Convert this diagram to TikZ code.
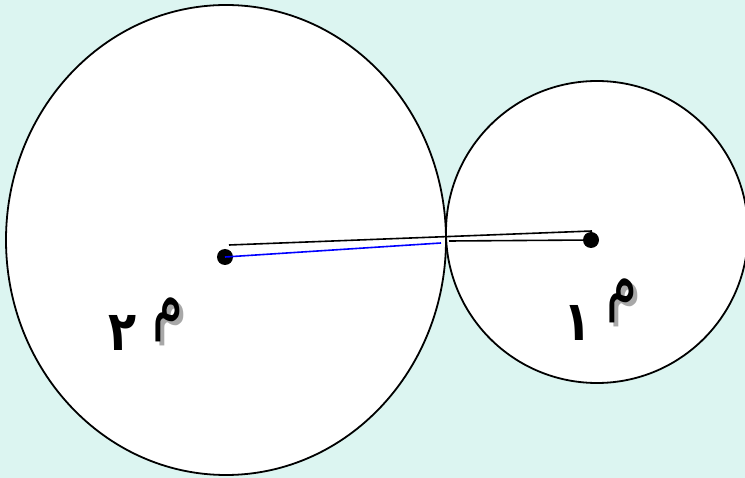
\documentclass[tikz,border=0pt]{standalone}
\usepackage{fontspec}
\newfontfamily\arabicfont[Script=Arabic]{DejaVu Sans}
\TeXXeTstate=1
\definecolor{bg}{HTML}{DCF5F1}
\definecolor{shadowgray}{HTML}{A8A8A8}
\newcommand{\shadowtext}[1]{\makebox[0pt][l]{\kern4pt\raisebox{-3pt}{\textcolor{shadowgray}{#1}}}#1}
\tikzset{
  circ/.style={draw=black, line width=1.8pt, fill=white},
  dotnode/.style={circle, fill=black, inner sep=0pt, minimum size=16pt},
  seg/.style={line width=1.6pt, black},
  radseg/.style={line width=1.6pt, blue},
  meem/.style={inner sep=0pt, yscale=1.45, font=\arabicfont\fontsize{50}{50}\selectfont},
  digit/.style={inner sep=0pt, yscale=1.2, font=\arabicfont\bfseries\fontsize{46}{46}\selectfont},
}
\begin{document}
\begin{tikzpicture}[x=1pt,y=-1pt]
\fill[bg] (0,0) rectangle (745,478);
\useasboundingbox (0,0) rectangle (745,478);
% circles
\draw[circ] (226,240) ellipse [x radius=220, y radius=235];
\draw[circ] (597,232) circle [radius=151];
% centres
\node[dotnode] (m2) at (225,257) {};
\node[dotnode] (m1) at (591,240) {};
% free ends
\coordinate (a) at (229,245);
\coordinate (b) at (592,231);
\coordinate (c) at (441,243);
\coordinate (e) at (449,241);
% segments
\draw[seg] (a) -- (b);
\draw[radseg] (m2.center) -- (c);
\draw[seg] (e) -- (m1.center);
% labels
\node[meem] (t2) at (168,322) {\shadowtext{م}};
\node[digit] (n2) at (123,333) {٢};
\node[meem] (t1) at (622,303) {\shadowtext{م}};
\node[digit] (n1) at (578,323) {١};
\end{tikzpicture}
\end{document}
